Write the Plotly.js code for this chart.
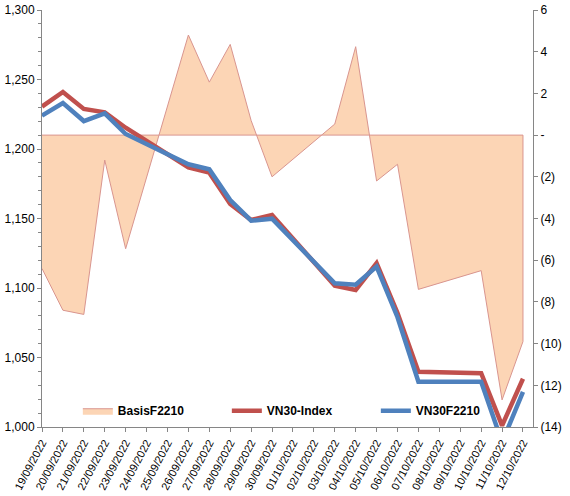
<!DOCTYPE html>
<html><head><meta charset="utf-8">
<script src="https://cdn.plot.ly/plotly-3.0.1.min.js"></script>
<style>html,body{margin:0;padding:0;background:#fff}#c{width:570px;height:496px}</style>
</head><body><div id="c"></div>
<script>
var dates = ['2022-09-19','2022-09-20','2022-09-21','2022-09-22','2022-09-23','2022-09-26','2022-09-27','2022-09-28','2022-09-29','2022-09-30','2022-10-03','2022-10-04','2022-10-05','2022-10-06','2022-10-07','2022-10-10','2022-10-11','2022-10-12'];
var vn30Index = [1230.5,1241,1228.8,1226.4,1215.3,1186.8,1183,1160.4,1148.9,1152.5,1101.7,1098.6,1117.8,1082,1039.8,1038.7,1001,1034.7];
var vn30F2210 = [1224,1233,1220.1,1225.7,1210.8,1189,1185.4,1163.3,1148.4,1149.9,1103.4,1102.4,1115.4,1079,1032.6,1032.6,989,1025.2];
var basisF2210 = [-6.4,-8.4,-8.6,-1.2,-5.45,4.8,2.54,4.35,0.7,-2.0,0.53,4.24,-2.2,-1.4,-7.4,-6.5,-12.7,-9.9];
var rightTickVals = [-14,-12,-10,-8,-6,-4,-2,0,2,4,6];
var rightTickText = ['(14)','(12)','(10)','(8)','(6)','(4)','(2)','-','2','4','6'];

var font = 'Liberation Sans, Arial, sans-serif';
var areaX = dates.concat([dates[dates.length-1], dates[0]]);
var areaY = basisF2210.concat([0, 0]);

var traces = [
  {x: areaX, y: areaY, type:'scatter', mode:'lines', fill:'toself', name:'BasisF2210',
   fillcolor:'#FCD5B5', line:{color:'#D9958F', width:1}, yaxis:'y', hoverinfo:'skip'},
  {x: dates, y: vn30Index, type:'scatter', mode:'lines', name:'VN30-Index',
   line:{color:'#C0504D', width:4.5}, yaxis:'y2'},
  {x: dates, y: vn30F2210, type:'scatter', mode:'lines', name:'VN30F2210',
   line:{color:'#4F81BD', width:4.5}, yaxis:'y2'}
];

var layout = {
  width:570, height:496,
  margin:{l:42, r:37, t:10, b:69},
  paper_bgcolor:'#fff', plot_bgcolor:'#fff',
  font:{family:font, size:12, color:'#000'},
  showlegend:true,
  legend:{orientation:'h', x:0.073, y:0.039, xanchor:'left', yanchor:'middle',
          bgcolor:'rgba(0,0,0,0)', entrywidth:104, entrywidthmode:'pixels',
          font:{family:font, size:12, weight:'bold', color:'#000'}, traceorder:'normal'},
  xaxis:{type:'date', range:['2022-09-19','2022-10-12 11:30'], tick0:'2022-09-19', dtick:86400000,
         tickformat:'%d/%m/%Y', tickangle:-62, ticks:'outside', ticklen:4, tickcolor:'#868686',
         showline:true, linecolor:'#868686', linewidth:1, showgrid:false, zeroline:false,
         tickfont:{family:font, size:11}},
  yaxis:{side:'right', range:[-14,6], tickvals:rightTickVals, ticktext:rightTickText,
         ticks:'outside', ticklen:4, tickcolor:'#868686', showline:true, linecolor:'#868686',
         showgrid:false, zeroline:false, tickfont:{family:font, size:12}},
  yaxis2:{side:'left', overlaying:'y', range:[1000,1300], dtick:50, tickformat:',.0f',
          ticks:'outside', ticklen:4, tickcolor:'#868686', showline:true, linecolor:'#868686',
          showgrid:false, zeroline:false, tickfont:{family:font, size:12},
          minor:{dtick:10, ticks:'outside', ticklen:3, tickcolor:'#868686', showgrid:false}}
};
Plotly.newPlot('c', traces, layout, {displayModeBar:false, staticPlot:true});
</script></body></html>
